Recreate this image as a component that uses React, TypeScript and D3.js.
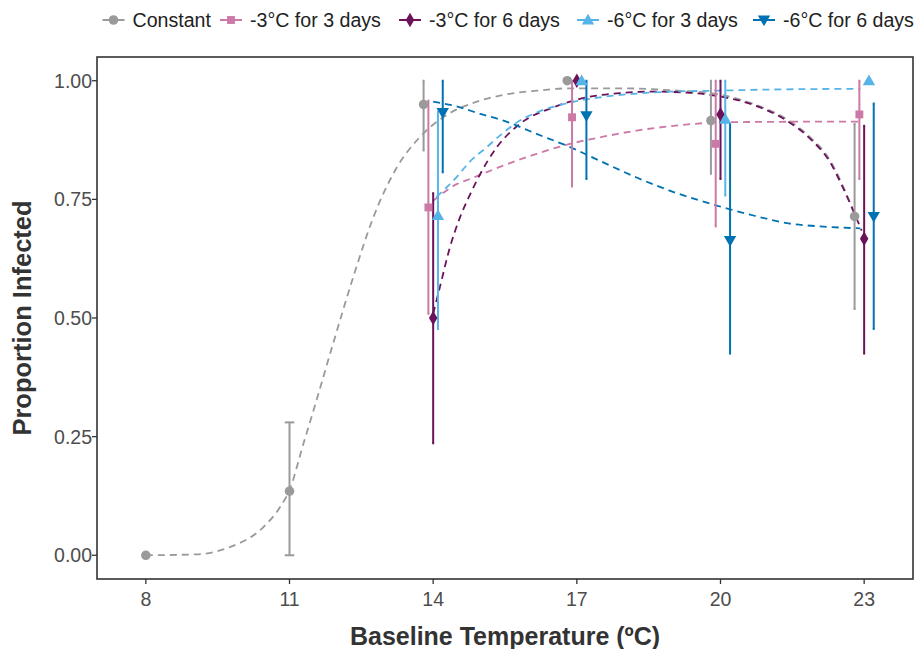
import React from "react";
import * as d3 from "d3";

const seriesNames = ["Constant", "-3°C for 3 days", "-3°C for 6 days", "-6°C for 3 days", "-6°C for 6 days"];
const seriesColors = ["#9a9a9a", "#cc79a7", "#6b1259", "#56b4e9", "#0072b2"];
const seriesShapes = ["circle", "square", "diamond", "triangle", "triangleDown"];

// observed points
const constantTemp = [8, 11, 14, 17, 20, 23];
const constantProp = [0, 0.135, 0.95, 1.0, 0.916, 0.714];
const constantLo = [0, 0, 0.853, 1.0, 0.804, 0.519];
const constantHi = [0, 0.28, 1.0, 1.0, 1.0, 0.909];

const m3d3Temp = [14, 17, 20, 23];
const m3d3Prop = [0.733, 0.923, 0.867, 0.929];
const m3d3Lo = [0.509, 0.777, 0.693, 0.793];
const m3d3Hi = [0.958, 1.0, 1.0, 1.0];

const m3d6Temp = [14, 17, 20, 23];
const m3d6Prop = [0.5, 1.0, 0.929, 0.667];
const m3d6Lo = [0.236, 1.0, 0.793, 0.425];
const m3d6Hi = [0.763, 1.0, 1.0, 0.905];

const m6d3Temp = [14, 17, 20, 23];
const m6d3Prop = [0.716, 1.0, 0.919, 1.0];
const m6d3Lo = [0.477, 1.0, 0.758, 1.0];
const m6d3Hi = [0.935, 1.0, 1.0, 1.0];

const m6d6Temp = [14, 17, 20, 23];
const m6d6Prop = [0.933, 0.926, 0.663, 0.714];
const m6d6Lo = [0.807, 0.793, 0.425, 0.477];
const m6d6Hi = [1.0, 1.0, 0.909, 0.952];

// fitted curves
const constantFit: [number, number][] = [
  [8, 0], [9.06, 0.002], [9.75, 0.017], [10.45, 0.059], [10.8, 0.101], [11.01, 0.14], [11.29, 0.235],
  [11.53, 0.315], [11.91, 0.446], [12.33, 0.586], [12.75, 0.712], [13.24, 0.817], [13.72, 0.881],
  [14.21, 0.923], [14.98, 0.958], [15.46, 0.97], [16.16, 0.979], [16.86, 0.984], [17.9, 0.984],
  [18.95, 0.98], [19.92, 0.972], [20.69, 0.951], [21.38, 0.919], [21.87, 0.881], [22.29, 0.832],
  [22.57, 0.775], [22.81, 0.718],
];
const m3d3Fit: [number, number][] = [
  [14.0, 0.747], [14.49, 0.782], [14.77, 0.793], [15.46, 0.821], [16.16, 0.846], [16.86, 0.867],
  [17.55, 0.882], [18.25, 0.895], [18.95, 0.904], [19.92, 0.912], [20.6, 0.913], [22.88, 0.914],
];
const m3d6Fit: [number, number][] = [
  [14.0, 0.509], [14.14, 0.565], [14.35, 0.649], [14.56, 0.712], [14.77, 0.76], [14.98, 0.803],
  [15.33, 0.86], [15.81, 0.909], [16.51, 0.944], [17.21, 0.965], [17.9, 0.974], [18.6, 0.977],
  [19.3, 0.975], [19.92, 0.968], [20.69, 0.949], [21.38, 0.916], [21.87, 0.878], [22.29, 0.828],
  [22.57, 0.772], [22.78, 0.724], [22.95, 0.684],
];
const m6d3Fit: [number, number][] = [
  [14.07, 0.755], [14.49, 0.797], [14.77, 0.83], [15.12, 0.86], [15.47, 0.891], [15.81, 0.916],
  [16.16, 0.933], [16.86, 0.954], [17.55, 0.966], [18.25, 0.973], [18.95, 0.977], [19.92, 0.979],
  [20.8, 0.981], [22.92, 0.983],
];
const m6d6Fit: [number, number][] = [
  [14.0, 0.956], [14.56, 0.944], [14.98, 0.93], [15.47, 0.916], [16.16, 0.888], [16.86, 0.86],
  [17.55, 0.828], [18.25, 0.796], [18.95, 0.768], [19.92, 0.737], [20.69, 0.716], [21.38, 0.70],
  [22.08, 0.693], [22.92, 0.689],
];

const xTicks = [8, 11, 14, 17, 20, 23];
const yTicks = [0, 0.25, 0.5, 0.75, 1.0];

const seriesTemps = [constantTemp, m3d3Temp, m3d6Temp, m6d3Temp, m6d6Temp];
const seriesProps = [constantProp, m3d3Prop, m3d6Prop, m6d3Prop, m6d6Prop];
const seriesLo = [constantLo, m3d3Lo, m3d6Lo, m6d3Lo, m6d6Lo];
const seriesHi = [constantHi, m3d3Hi, m3d6Hi, m6d3Hi, m6d6Hi];
const seriesFits = [constantFit, m3d3Fit, m3d6Fit, m6d3Fit, m6d6Fit];

const W = 919, H = 649;
const L = 97, R = 913, T = 57, B = 579;
const FONT = "'Liberation Sans', Arial, Helvetica, sans-serif";

const symbolFor = (shape: string) => {
  switch (shape) {
    case "circle": return d3.symbol(d3.symbolCircle, 72)();
    case "square": return d3.symbol(d3.symbolSquare, 62)();
    case "diamond": return d3.symbol(d3.symbolDiamond, 62)();
    default: return d3.symbol(d3.symbolTriangle, 66)();
  }
};

function Marker({ shape, color, x, y }: { shape: string; color: string; x: number; y: number }) {
  const rot = shape === "triangleDown" ? 180 : 0;
  const dy = shape === "triangle" ? 1 : shape === "triangleDown" ? -1 : 0;
  return <path d={symbolFor(shape) || ""} fill={color} transform={`translate(${x},${y + dy}) rotate(${rot})`} />;
}

export default function App() {
  const x = d3.scaleLinear().domain([6.98, 24.02]).range([L, R]);
  const y = d3.scaleLinear().domain([-0.05, 1.05]).range([B, T]);
  const line = d3.line<[number, number]>().x((d) => x(d[0])).y((d) => y(d[1])).curve(d3.curveMonotoneX);

  // dodge positions
  const dodge = (si: number, t: number) => {
    const present = seriesTemps.map((ts, i) => (ts.includes(t) ? i : -1)).filter((i) => i >= 0);
    const n = present.length;
    const k = present.indexOf(si);
    return { off: (k - (n - 1) / 2) * 0.1, cap: 0.2 / n };
  };

  const legendKeys = [113.5, 231, 410, 588, 764];

  return (
    <svg width={W} height={H} style={{ position: "absolute", left: 0, top: 0, background: "#fff" }} fontFamily={FONT}>
      <rect x={0} y={0} width={W} height={H} fill="#fff" />
      {/* legend */}
      {seriesNames.map((name, i) => (
        <g key={name}>
          <line x1={legendKeys[i] - 11} x2={legendKeys[i] + 11} y1={20} y2={20} stroke={seriesColors[i]} strokeWidth={2} />
          <Marker shape={seriesShapes[i]} color={seriesColors[i]} x={legendKeys[i]} y={20} />
          <text x={legendKeys[i] + 19} y={27} fontSize={19.6} fill="#222">{name}</text>
        </g>
      ))}
      {/* fitted curves */}
      {seriesFits.map((f, i) => (
        <path key={"f" + i} d={line(f) || ""} fill="none" stroke={seriesColors[i]} strokeWidth={1.8} strokeDasharray="7,5" />
      ))}
      {/* error bars */}
      {seriesTemps.map((ts, i) =>
        ts.map((t, j) => {
          const { off, cap } = dodge(i, t);
          const cx = x(t + off);
          const hw = (x(t + cap / 2) - x(t - cap / 2)) / 2;
          const y1 = y(seriesLo[i][j]);
          const y2 = y(seriesHi[i][j]);
          if (seriesLo[i][j] === seriesHi[i][j]) return null;
          return (
            <g key={"e" + i + "-" + j} stroke={seriesColors[i]} strokeWidth={2}>
              <line x1={cx} x2={cx} y1={y1} y2={y2} />
              <line x1={cx - hw} x2={cx + hw} y1={y1} y2={y1} />
              <line x1={cx - hw} x2={cx + hw} y1={y2} y2={y2} />
            </g>
          );
        })
      )}
      {/* points */}
      {seriesTemps.map((ts, i) =>
        ts.map((t, j) => {
          const { off } = dodge(i, t);
          return <Marker key={"p" + i + "-" + j} shape={seriesShapes[i]} color={seriesColors[i]} x={x(t + off)} y={y(seriesProps[i][j])} />;
        })
      )}
      {/* panel border */}
      <rect x={L} y={T} width={R - L} height={B - T} fill="none" stroke="#333" strokeWidth={1.6} />
      {/* x axis */}
      {xTicks.map((t) => (
        <g key={"xt" + t}>
          <line x1={x(t)} x2={x(t)} y1={B} y2={B + 5} stroke="#333" strokeWidth={1.3} />
          <text x={x(t)} y={606} fontSize={19.5} fill="#4d4d4d" textAnchor="middle">{t}</text>
        </g>
      ))}
      {yTicks.map((t) => (
        <g key={"yt" + t}>
          <line x1={L - 5} x2={L} y1={y(t)} y2={y(t)} stroke="#333" strokeWidth={1.3} />
          <text x={L - 5} y={y(t) + 7} fontSize={19.5} fill="#4d4d4d" textAnchor="end">{t.toFixed(2)}</text>
        </g>
      ))}
      <text x={(L + R) / 2} y={645} fontSize={25} fontWeight="bold" fill="#333" textAnchor="middle">Baseline Temperature (ºC)</text>
      <text transform={`translate(31,${(T + B) / 2}) rotate(-90)`} fontSize={25.5} fontWeight="bold" fill="#333" textAnchor="middle">Proportion Infected</text>
    </svg>
  );
}
